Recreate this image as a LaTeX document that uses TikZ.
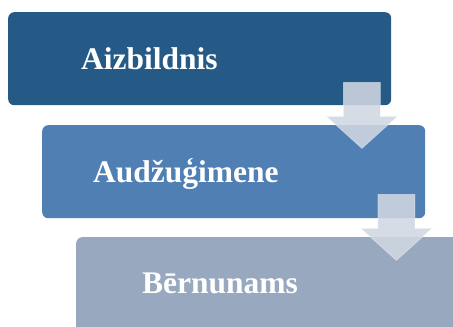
\documentclass[tikz,border=0pt]{standalone}
\usepackage{fontspec}
\setmainfont{Liberation Serif}
\usetikzlibrary{calc}
\definecolor{stageA}{HTML}{255A87}
\definecolor{stageB}{HTML}{4F7FB3}
\definecolor{stageC}{HTML}{98A8BF}
\definecolor{flowfill}{HTML}{D0D7E2}
\begin{document}
\begin{tikzpicture}[x=1pt,y=-1pt,
  stage/.style={rounded corners=6pt, inner sep=0pt, minimum height=93pt, anchor=north west},
  stagetext/.style={text=white, font=\bfseries\fontsize{31.5}{36}\selectfont, anchor=base west, inner sep=0pt},
  flow/.style={fill=flowfill, fill opacity=0.88, draw=white, draw opacity=0.35, line width=0.8pt},
  downarrow/.pic={\path[flow] (-18.5,0) -- (18.5,0) -- (18.5,34) -- (35.5,34) -- (0,66)
      -- (-35.5,34) -- (-18.5,34) -- cycle;}]
\useasboundingbox (0,0) rectangle (453,327);
\clip (0,0) rectangle (453,327);
% three stacked stages
\node[stage, fill=stageA, minimum width=383pt] (s1) at (8,12) {};
\node[stage, fill=stageB, minimum width=383pt] (s2) at (42,125) {};
\node[stage, fill=stageC, minimum width=400pt, minimum height=110pt] (s3) at (76,237) {};
% labels
\node[stagetext] (t1) at ($(s1.north west)+(73,57)$) {Aizbildnis};
\node[stagetext] (t2) at ($(s2.north west)+(51,57)$) {Audžuģimene};
\node[stagetext] (t3) at ($(s3.north west)+(66,56)$) {Bērnunams};
% arrows between the stages
\pic at ($(s1.south east)+(-29.5,-23)$) {downarrow};
\pic at ($(s2.south east)+(-29,-24)$) {downarrow};
\end{tikzpicture}
\end{document}
